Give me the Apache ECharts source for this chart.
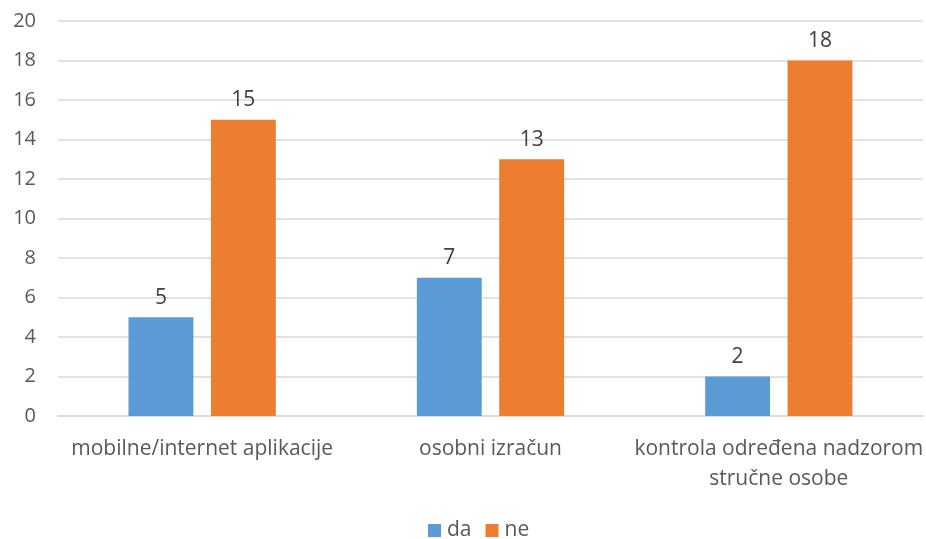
<!DOCTYPE html>
<html><head><meta charset="utf-8">
<script src="https://cdn.jsdelivr.net/npm/echarts@6/dist/echarts.min.js"></script>
<style>html,body{margin:0;padding:0;background:#fff}#c{width:926px;height:539px}</style>
</head><body><div id="c"></div>
<script>
const categories = ["mobilne/internet aplikacije", "osobni izračun", "kontrola određena nadzorom\nstručne osobe"];
const seriesNames = ["da", "ne"];
const daValues = [5, 7, 2];
const neValues = [15, 13, 18];
const yTicks = {min: 0, max: 20, interval: 2};

const FONT = "'Open Sans', 'Noto Sans', sans-serif";
const chart = echarts.init(document.getElementById('c'));
const labelStyle = {show: true, position: 'top', distance: 9, color: '#404040', fontSize: 21, fontFamily: FONT};
chart.setOption({
  animation: false,
  color: ['#5B9BD5', '#ED7D31'],
  grid: {left: 58, right: 2, top: 21, bottom: 123, containLabel: false},
  legend: {
    top: 515, left: 423, itemWidth: 13, itemHeight: 13, itemGap: 14,
    icon: 'rect',
    textStyle: {color: '#595959', fontSize: 21, fontFamily: FONT, padding: [0, 0, 0, 1]},
    data: seriesNames
  },
  xAxis: {
    type: 'category', data: categories,
    axisLine: {show: true, lineStyle: {color: '#D9D9D9', width: 1.5}},
    axisTick: {show: false},
    axisLabel: {color: '#595959', fontSize: 21, fontFamily: FONT, margin: 18, lineHeight: 30, interval: 0}
  },
  yAxis: {
    type: 'value', min: yTicks.min, max: yTicks.max, interval: yTicks.interval,
    axisLine: {show: false}, axisTick: {show: false},
    splitLine: {lineStyle: {color: '#D9D9D9', width: 1.5}},
    axisLabel: {color: '#595959', fontSize: 20, fontFamily: FONT, margin: 22}
  },
  series: [
    {name: seriesNames[0], type: 'bar', data: daValues, barWidth: '22.5%', barGap: '27%', label: labelStyle},
    {name: seriesNames[1], type: 'bar', data: neValues, barWidth: '22.5%', label: labelStyle}
  ]
});
</script></body></html>
